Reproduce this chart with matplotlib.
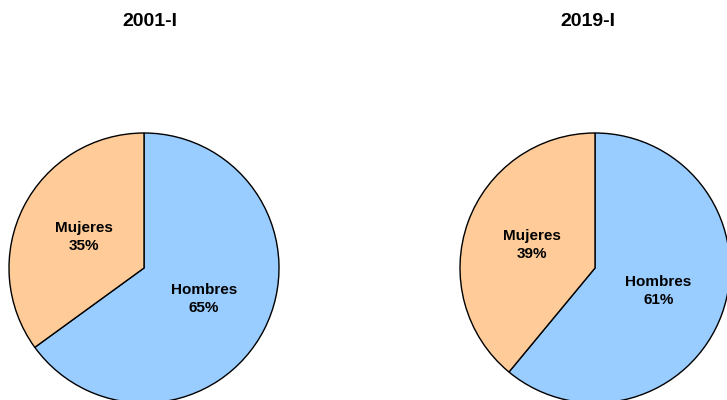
import matplotlib
matplotlib.use("Agg")
import matplotlib.pyplot as plt

plt.rcParams['font.family'] = ['Liberation Sans', 'DejaVu Sans']

categories = ["Hombres", "Mujeres"]
titles = ["2001-I", "2019-I"]
values_2001 = [65, 35]
values_2019 = [61, 39]
colors = ["#99CCFF", "#FFCC99"]

W, H = 727, 400
fig = plt.figure(figsize=(W / 100, H / 100), dpi=100)
ax = fig.add_axes([0, 0, 1, 1])
ax.set_xlim(0, W)
ax.set_ylim(0, H)
ax.set_aspect('equal')
ax.axis('off')

centers = [(144, H - 268), (595, H - 268)]
radius = 135
title_x = [150, 588]

for vals, title, c, tx in zip([values_2001, values_2019], titles, centers, title_x):
    labels = [f"{n}\n{v}%" for n, v in zip(categories, vals)]
    wedges, texts = ax.pie(vals, labels=labels, colors=colors, startangle=90,
                           counterclock=False, center=c, radius=radius,
                           labeldistance=0.5, frame=True,
                           wedgeprops=dict(edgecolor='black', linewidth=1.0),
                           textprops=dict(fontsize=11, fontweight='bold'))
    for t in texts:
        t.set_ha('center')
        t.set_va('center')
        t.set_linespacing(1.35)
    ax.text(tx, H - 22, title, ha='center', va='center', fontsize=14,
            fontweight='bold')

ax.set_xlim(0, W)
ax.set_ylim(0, H)
ax.axis('off')
fig.savefig("out.png", dpi=100)
